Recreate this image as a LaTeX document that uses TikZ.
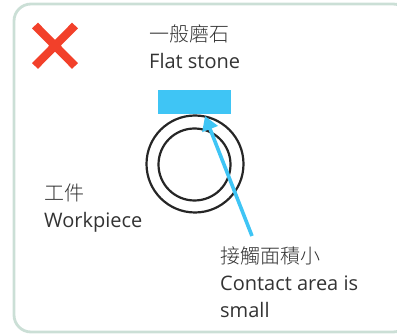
\documentclass[tikz,border=0pt]{standalone}
\usepackage{fontspec}
\setmainfont{Open Sans}
\newfontfamily\cjkfont{Noto Sans CJK TC Light}
\usepackage{xcolor}
\usetikzlibrary{arrows.meta}
\definecolor{panelgreen}{HTML}{CBDFD6}
\definecolor{crossred}{HTML}{F2402A}
\definecolor{stoneblue}{HTML}{3FC5F5}
\definecolor{inkgray}{HTML}{333333}
\tikzset{
  ring/.style={circle,draw=black!85,line width=2.2pt,inner sep=0pt},
  caption/.style={anchor=north west,inner sep=0pt,text=inkgray,align=left,font=\fontsize{20}{27}\selectfont},
}

\begin{document}
\begin{tikzpicture}[x=1pt,y=-1pt]
    \useasboundingbox (0,0) rectangle (397,334);
    \draw[panelgreen,line width=2.8pt,rounded corners=17pt] (14,4) rectangle (410,332);
    % cross
    \coordinate (crossa) at (35,25.5);
    \coordinate (crossb) at (75,66);
    \coordinate (crossc) at (75,25.5);
    \coordinate (crossd) at (35,66);
    \draw[crossred,line width=8.2pt] (crossa) -- (crossb);
    \draw[crossred,line width=8.2pt] (crossc) -- (crossd);
    % stone and workpiece
    \node[fill=stoneblue,minimum width=73pt,minimum height=24pt,inner sep=0pt] (stone) at (194.5,102) {};
    \node[ring,minimum size=97pt] (outerring) at (195,164) {};
    \node[ring,minimum size=72pt] (innerring) at (194.5,164.5) {};
    % labels
    \node[caption] (stonelabel) at (149,25) {{\cjkfont 一般磨石}\\Flat stone};
    \node[caption] (worklabel) at (44,183.5) {{\cjkfont 工件}\\Workpiece};
    \node[caption] (contactlabel) at (220,247) {{\cjkfont 接觸面積小}\\Contact area is\\small};
    % pointer
    \coordinate (pointerend) at (252,236);
    \coordinate (contact) at (205,116);
    \draw[stoneblue,line width=3.6pt,-{Triangle[length=14pt,width=16pt]}] (pointerend) -- (contact);
\end{tikzpicture}
\end{document}
